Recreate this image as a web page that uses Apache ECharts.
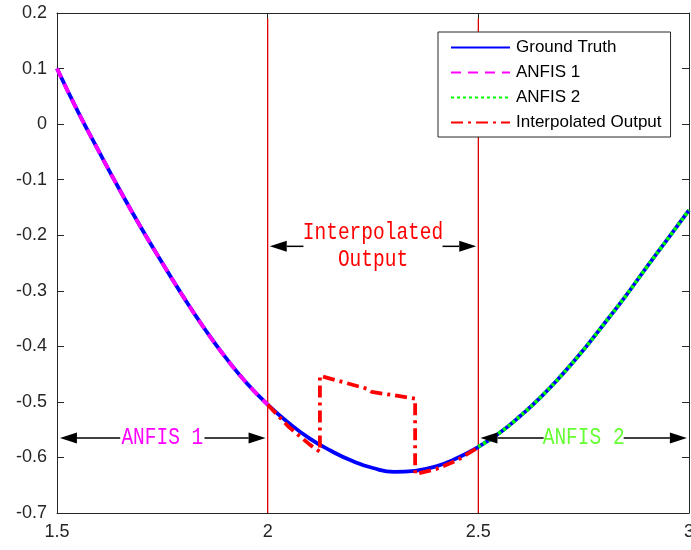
<!DOCTYPE html>
<html>
<head>
<meta charset="utf-8">
<script src="https://cdn.jsdelivr.net/npm/echarts@6.0.0/dist/echarts.min.js"></script>
<style>
  html, body { margin: 0; padding: 0; background: #fff; }
  #chart { width: 691px; height: 550px; }
</style>
</head>
<body>
<div id="chart"></div>
<script>
// Ground truth curve sampled every 0.05
const truthX = [1.50, 1.55, 1.60, 1.65, 1.70, 1.75, 1.80, 1.85, 1.90, 1.95, 2.00,
                2.05, 2.10, 2.15, 2.20, 2.25, 2.30, 2.35, 2.40, 2.45, 2.50,
                2.55, 2.60, 2.65, 2.70, 2.75, 2.80, 2.85, 2.90, 2.95, 3.00];
const truthY = [0.100, 0.022, -0.050, -0.120, -0.187, -0.250, -0.311, -0.368, -0.420, -0.466, -0.505,
                -0.538, -0.566, -0.588, -0.606, -0.619, -0.626, -0.624, -0.616, -0.601, -0.581,
                -0.556, -0.525, -0.490, -0.450, -0.406, -0.358, -0.309, -0.257, -0.206, -0.155];

// First model, left segment
const anfis1X = [1.50, 1.55, 1.60, 1.65, 1.70, 1.75, 1.80, 1.85, 1.90, 1.95, 2.00];
const anfis1Y = [0.100, 0.022, -0.050, -0.120, -0.187, -0.250, -0.311, -0.368, -0.420, -0.466, -0.505];

// Second model, right segment
const anfis2X = [2.50, 2.55, 2.60, 2.65, 2.70, 2.75, 2.80, 2.85, 2.90, 2.95, 3.00];
const anfis2Y = [-0.581, -0.556, -0.525, -0.490, -0.450, -0.406, -0.358, -0.309, -0.257, -0.206, -0.155];

// Blended output across the transition zone
const interpX = [2.000, 2.050, 2.100, 2.124, 2.124, 2.239, 2.247, 2.350, 2.350, 2.400, 2.450, 2.500];
const interpY = [-0.505, -0.545, -0.577, -0.590, -0.453, -0.477, -0.482, -0.494, -0.630, -0.621, -0.605, -0.582];

// Region boundaries
const boundaryX = [2.0, 2.5];
const boundaryTop = 0.19;

// Annotation arrows: [tail x, tip x, y]
const arrowRows = [
  [1.650, 1.507, -0.565], [1.850, 1.995, -0.565],
  [2.085, 2.005, -0.220], [2.415, 2.495, -0.220],
  [2.655, 2.505, -0.565], [2.845, 2.995, -0.565]
];

// Annotation texts
const noteX = [1.75, 2.25, 2.75];
const noteY = [-0.565, -0.220, -0.565];
const noteText = ['ANFIS 1', 'Interpolated\nOutput', 'ANFIS 2'];
const noteColor = ['#ff00ff', '#ff0000', '#66ff33'];

const xTicks = { min: 1.5, max: 3, interval: 0.5 };
const yTicks = { min: -0.7, max: 0.2, interval: 0.1 };

const zip = (xs, ys) => xs.map((x, i) => [x, ys[i]]);

const axisColor = '#262626';
const baseAxis = {
  type: 'value',
  splitLine: { show: false },
  axisLine: { show: true, onZero: false, lineStyle: { color: axisColor, width: 1 } },
  axisTick: { show: true, inside: true, length: 7, lineStyle: { color: axisColor, width: 1 } },
  axisLabel: { color: axisColor, fontSize: 18, fontFamily: 'Liberation Sans', margin: 10 }
};

const chart = echarts.init(document.getElementById('chart'), null, { renderer: 'canvas' });

chart.setOption({
  animation: false,
  backgroundColor: '#fff',
  grid: { left: 57, right: 2, top: 13, bottom: 37, containLabel: false, outerBoundsMode: 'none' },
  xAxis: [
    Object.assign({}, baseAxis, xTicks, { position: 'bottom' }),
    Object.assign({}, baseAxis, xTicks, { position: 'top', axisLabel: { show: false } })
  ],
  yAxis: [
    Object.assign({}, baseAxis, yTicks, { position: 'left' }),
    Object.assign({}, baseAxis, yTicks, { position: 'right', axisLabel: { show: false } })
  ],
  legend: {
    data: ['Ground Truth', 'ANFIS 1', 'ANFIS 2', 'Interpolated Output'],
    orient: 'vertical',
    left: 438,
    top: 32,
    padding: [7, 9, 6, 12],
    itemGap: 8,
    itemWidth: 59,
    itemHeight: 17,
    backgroundColor: '#fff',
    borderColor: axisColor,
    borderWidth: 1,
    borderRadius: 0,
    z: 10,
    itemStyle: { opacity: 0 },
    textStyle: { color: '#000', fontSize: 17, fontFamily: 'Liberation Sans', padding: [0, 0, 0, 1] }
  },
  series: [
    {
      type: 'line',
      name: 'boundaries',
      data: [[boundaryX[0], yTicks.min], [boundaryX[0], boundaryTop], null,
             [boundaryX[1], boundaryTop], [boundaryX[1], yTicks.min]],
      connectNulls: false,
      symbol: 'none',
      silent: true,
      lineStyle: { color: '#dd0000', width: 1.3 },
      z: 1
    },
    {
      type: 'line',
      name: 'Ground Truth',
      data: zip(truthX, truthY),
      smooth: 0.5,
      symbol: 'none',
      color: '#0000ff',
      lineStyle: { color: '#0000ff', width: 3.8 },
      z: 2
    },
    {
      type: 'line',
      name: 'ANFIS 1',
      data: zip(anfis1X, anfis1Y),
      smooth: 0.5,
      symbol: 'none',
      color: '#ff00ff',
      lineStyle: { color: '#ff00ff', width: 3.8, type: [10, 7] },
      z: 3
    },
    {
      type: 'line',
      name: 'ANFIS 2',
      data: zip(anfis2X, anfis2Y),
      smooth: 0.5,
      symbol: 'none',
      color: '#00ff00',
      lineStyle: { color: '#00ff00', width: 3.8, type: [3, 3] },
      z: 3
    },
    {
      type: 'line',
      name: 'Interpolated Output',
      data: zip(interpX, interpY),
      symbol: 'none',
      color: '#ff0000',
      lineStyle: { color: '#ff0000', width: 3.8, type: [12, 5, 3, 5] },
      z: 4
    },
    {
      type: 'custom',
      name: 'arrows',
      data: arrowRows,
      silent: true,
      z: 5,
      renderItem: (params, api) => {
        const a = api.coord([api.value(0), api.value(2)]);
        const b = api.coord([api.value(1), api.value(2)]);
        const dir = Math.sign(b[0] - a[0]);
        const len = 17, half = 5.5;
        const base = b[0] - dir * len;
        return {
          type: 'group',
          children: [
            { type: 'line', shape: { x1: a[0], y1: a[1], x2: base, y2: b[1] },
              style: { stroke: '#000', lineWidth: 1.5 } },
            { type: 'polygon', shape: { points: [[b[0], b[1]], [base, b[1] - half], [base, b[1] + half]] },
              style: { fill: '#000' } }
          ]
        };
      }
    },
    {
      type: 'custom',
      name: 'notes',
      data: zip(noteX, noteY),
      silent: true,
      z: 6,
      renderItem: (params, api) => {
        const i = params.dataIndex;
        const p = api.coord([api.value(0), api.value(1)]);
        return {
          type: 'text',
          x: p[0],
          y: p[1],
          scaleY: 1.2,
          style: {
            text: noteText[i],
            fill: noteColor[i],
            fontSize: 19.5,
            fontFamily: 'Liberation Mono',
            lineHeight: 23,
            align: 'center',
            verticalAlign: 'middle'
          }
        };
      }
    }
  ]
});
</script>
</body>
</html>
